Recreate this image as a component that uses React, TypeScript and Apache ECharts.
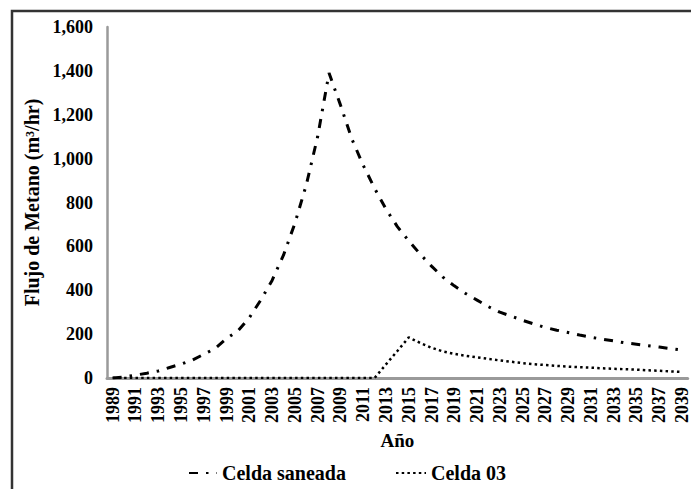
import React, { useEffect, useRef } from "react";
import * as echarts from "echarts";

const years: string[] = [];
for (let y = 1989; y <= 2039; y++) years.push(String(y));

const celdaSaneada = [
  0, 5, 13, 22, 32, 48, 63, 82, 108, 135, 180, 215, 275, 355, 445, 560, 705, 880, 1100, 1390,
  1245, 1090, 970, 865, 770, 690, 625, 565, 510, 460, 420, 385, 355, 325, 300, 282,
  263, 246, 230, 218, 207, 196, 186, 177, 169, 160, 154, 147, 141, 134, 127,
];

const celda03 = [
  0, 0, 0, 0, 0, 0, 0, 0, 0, 0, 0, 0, 0, 0, 0, 0, 0, 0, 0, 0,
  0, 0, 0, 0, 62, 123, 185, 160, 138, 121, 110, 101, 94, 87, 80, 74,
  68, 63, 59, 55, 52, 49, 47, 44, 42, 40, 38, 35, 33, 30, 28,
];

const yTicks = { min: 0, max: 1600, interval: 200 };

const FONT = "'Liberation Serif', 'Times New Roman', serif";

export default function App() {
  const ref = useRef<HTMLDivElement>(null);
  useEffect(() => {
    if (!ref.current) return;
    const chart = echarts.init(ref.current, null, { renderer: "svg" });
    const legendText = { fontFamily: FONT, fontWeight: 900, fontSize: 20, color: "#000" };
    chart.setOption({
      animation: false,
      backgroundColor: "#fff",
      grid: { left: 107, right: 2, top: 27, bottom: 111, containLabel: false },
      graphic: [
        {
          type: "rect",
          shape: { x: 12, y: 11, width: 720, height: 520 },
          style: { fill: "none", stroke: "#333", lineWidth: 2.5 },
          silent: true,
        },
      ],
      legend: [
        {
          data: ["Celda saneada"],
          left: 183,
          top: 458,
          itemWidth: 28,
          itemHeight: 14,
          itemGap: 4,
          itemStyle: { opacity: 0 },
          textStyle: legendText,
        },
        {
          data: ["Celda 03"],
          left: 390,
          top: 458,
          itemWidth: 30,
          itemHeight: 14,
          itemStyle: { opacity: 0 },
          textStyle: legendText,
        },
      ],
      xAxis: {
        type: "category",
        data: years,
        boundaryGap: true,
        name: "Año",
        nameLocation: "middle",
        nameGap: 48,
        nameTextStyle: { fontFamily: FONT, fontWeight: 900, fontSize: 19, color: "#000" },
        axisLine: { lineStyle: { color: "#9a9a9a", width: 3 } },
        axisTick: { show: false },
        axisLabel: {
          interval: 1,
          rotate: 90,
          margin: 9,
          fontFamily: FONT,
          fontWeight: 900,
          fontSize: 18,
          color: "#000",
        },
        splitLine: { show: false },
      },
      yAxis: {
        type: "value",
        min: yTicks.min,
        max: yTicks.max,
        interval: yTicks.interval,
        name: "Flujo de Metano (m³/hr)",
        nameLocation: "middle",
        nameGap: 53,
        nameTextStyle: { fontFamily: FONT, fontWeight: 900, fontSize: 20, color: "#000" },
        axisLine: { show: true, lineStyle: { color: "#9a9a9a", width: 2.5 } },
        axisTick: { show: false },
        splitLine: { show: false },
        axisLabel: {
          margin: 14,
          fontFamily: FONT,
          fontWeight: 900,
          fontSize: 18,
          color: "#000",
          formatter: (v: number) => v.toLocaleString("en-US"),
        },
      },
      series: [
        {
          name: "Celda saneada",
          type: "line",
          data: celdaSaneada,
          symbol: "none",
          smooth: false,
          lineStyle: { color: "#000", width: 3, type: [9, 8, 2.5, 8], cap: "butt" },
          itemStyle: { color: "#000" },
        },
        {
          name: "Celda 03",
          type: "line",
          data: celda03,
          symbol: "none",
          smooth: false,
          lineStyle: { color: "#000", width: 2.5, type: [2.5, 3.2], cap: "butt" },
          itemStyle: { color: "#000" },
        },
      ],
    });
    return () => chart.dispose();
  }, []);
  return (
    <div
      ref={ref}
      style={{ position: "fixed", left: 0, top: 0, width: 691, height: 489 }}
    />
  );
}
